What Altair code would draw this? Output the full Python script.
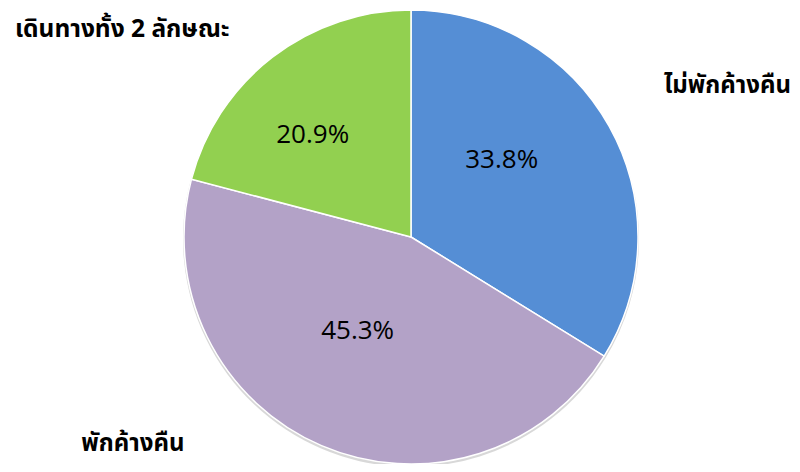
import altair as alt
import pandas as pd

categories = ["ไม่พักค้างคืน", "พักค้างคืน", "เดินทางทั้ง 2 ลักษณะ"]
shares = [33.8, 45.3, 20.9]
pct_labels = ["33.8%", "45.3%", "20.9%"]
colors = ["#558ED5", "#B3A2C7", "#92D050"]

df = pd.DataFrame({
    "category": categories,
    "share": shares,
    "pct": pct_labels,
    "order": list(range(len(categories))),
})

CX, CY = 403, 229
R = 227

base = alt.Chart(df).encode(
    theta=alt.Theta("share:Q", stack=True),
    order=alt.Order("order:Q"),
    x=alt.value(CX),
    y=alt.value(CY),
)

color = alt.Color(
    "category:N",
    scale=alt.Scale(domain=categories, range=colors),
    legend=None,
)

shadow = alt.Chart(df).mark_arc(radius=R + 1, color="#c8c8c8", opacity=0.7).encode(
    theta=alt.Theta("share:Q", stack=True),
    order=alt.Order("order:Q"),
    x=alt.value(CX),
    y=alt.value(CY + 2),
)

pie = base.mark_arc(radius=R, stroke="white", strokeWidth=1.5).encode(color=color)

PCT_FONT = "Open Sans, Noto Sans, sans-serif"
THAI_FONT = "Noto Sans Thai, Tahoma, Noto Sans, sans-serif"


def one_label(i, field, radius, align, dx, dy, font, size, weight):
    return base.transform_calculate(
        lbl=f"datum.order == {i} ? datum.{field} : ''"
    ).mark_text(
        radius=radius, align=align, baseline="middle", dx=dx, dy=dy,
        fontSize=size, fontWeight=weight, font=font, color="black",
    ).encode(text="lbl:N")


pct1 = one_label(0, "pct", 121, "center", -15, -18, PCT_FONT, 26, "normal")
pct2 = one_label(1, "pct", 105, "center", -12, -2, PCT_FONT, 26, "normal")
pct3 = one_label(2, "pct", 143, "center", -11, 11, PCT_FONT, 26, "normal")

lab1 = one_label(0, "category", 300, "left", -9, -5, THAI_FONT, 24, "bold")
lab2 = one_label(1, "category", 250, "right", -128, -23, THAI_FONT, 24, "bold")
lab3 = one_label(2, "category", 266, "right", -19, 4, THAI_FONT, 24.5, "bold")

chart = alt.layer(shadow, pie, pct1, pct2, pct3, lab1, lab2, lab3).properties(
    width=784, height=456, padding=0,
    autosize=alt.AutoSizeParams(type="none"),
).configure_view(stroke=None)

chart.save("out.html", embed_options={"renderer": "svg", "actions": False})
